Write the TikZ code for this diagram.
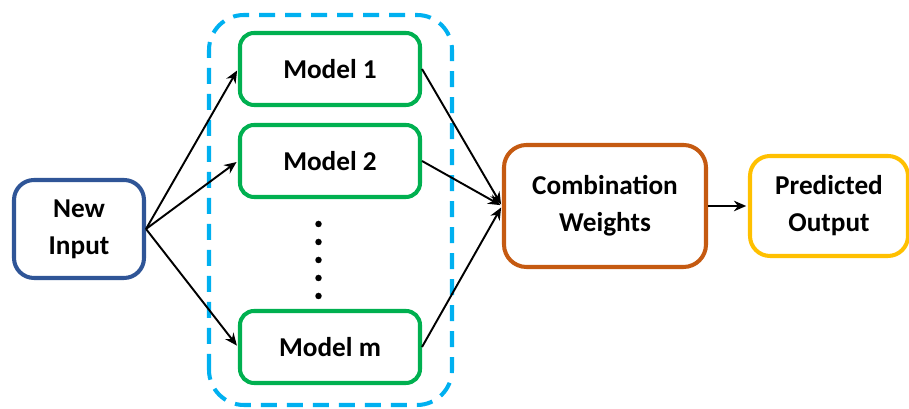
\documentclass[tikz,border=0pt]{standalone}
\usepackage{fontspec}
\setmainfont{Carlito}
\usepackage{xcolor}
\usetikzlibrary{arrows.meta}
\definecolor{inblue}{HTML}{2F5597}
\definecolor{mgreen}{HTML}{00B050}
\definecolor{skyblue}{HTML}{00B0F0}
\definecolor{cworange}{HTML}{C55A11}
\definecolor{outyellow}{HTML}{FFC000}

\begin{document}
\begin{tikzpicture}[>={Stealth[length=7pt,width=6pt]},
box/.style={draw,line width=2.3pt,align=center,font=\fontsize{15.5}{19}\selectfont\bfseries,inner sep=0pt},
modelbox/.style={box,mgreen,text=black,minimum width=3.6cm,minimum height=1.44cm,rounded corners=0.28cm},
link/.style={->,line width=1.1pt,shorten >=1pt}]
\useasboundingbox (0,0) rectangle (18.18,8.18);
% ensemble frame
\draw[skyblue,line width=2.3pt,dash pattern=on 0.32cm off 0.2cm,rounded corners=0.7cm]
(4.18,0.08) rectangle (9.04,7.88);
\node[box,inblue,text=black,minimum width=2.6cm,minimum height=1.96cm,rounded corners=0.4cm](inp) at (1.58,3.60){New\\[2pt]Input};
\node[modelbox](m1) at (6.60,6.80){Model 1};
\node[modelbox](m2) at (6.60,4.96){Model 2};
\node[modelbox](mm) at (6.60,1.24){Model m};
\foreach \y in {3.70,3.34,2.98,2.62,2.26}
\fill (6.37,\y) circle (0.065);
\node[box,cworange,text=black,minimum width=4.04cm,minimum height=2.44cm,rounded corners=0.45cm](cw) at (12.10,4.06){Combination\\[2pt]Weights};
\node[box,outyellow,text=black,minimum width=3.16cm,minimum height=2.0cm,rounded corners=0.4cm](po) at (16.58,4.06){Predicted\\[2pt]Output};
\draw[link](inp.east)--(m1.west);
\draw[link](inp.east)--(m2.west);
\draw[link](inp.east)--(mm.west);
\draw[link](m1.east)--(cw.west);
\draw[link](m2.east)--(cw.west);
\draw[link](mm.east)--(cw.west);
\draw[link](cw.east)--(po.west);
\end{tikzpicture}
\end{document}
